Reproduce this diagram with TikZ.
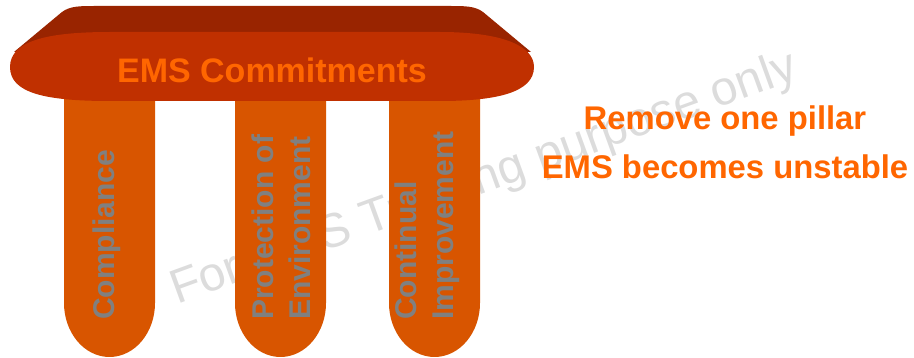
\documentclass[tikz,border=0pt]{standalone}
\usepackage{fontspec}
\setmainfont{Liberation Sans}
\definecolor{slabtop}{HTML}{992400}
\definecolor{slabfront}{HTML}{C03000}
\definecolor{pillarfill}{HTML}{D85500}
\definecolor{emsorange}{HTML}{FF6600}
\definecolor{pillartext}{HTML}{808080}
\definecolor{watermark}{HTML}{DCDCDC}
\begin{document}
\begin{tikzpicture}[x = 1pt, y = -1pt,
    pillarlabel/.style = {text = pillartext, font = \fontsize{30}{37}\selectfont\bfseries,
      rotate = 90, anchor = west, inner sep = 0pt, align = left},
  ]
    \useasboundingbox (0,0) rectangle (914,358);
    % watermark, behind the pillars
    \node[anchor=base west, rotate=20, inner sep=0pt, text=watermark,
      font=\fontsize{48}{58}\selectfont] (mark) at (177,305) {For EMS Training purpose only};
    % the three pillars
    \foreach \x in {64, 235, 389}{
      \fill[pillarfill] (\x,90) -- (\x+91,90) -- (\x+91,303)
        arc[start angle=0, end angle=-180, x radius=45.5, y radius=-54] -- cycle;
    }
    % the slab on top
    \fill[slabtop] (14,52) -- (62,12) .. controls (70,6) and (80,6) .. (95,6) -- (450,6)
      .. controls (465,6) and (475,6) .. (483,12) -- (531,52) -- cycle;
    \fill[slabfront] (10,67) .. controls (10,40) and (50,32) .. (110,32) -- (440,32)
      .. controls (500,32) and (534,45) .. (534,67) .. controls (534,93) and (495,101) .. (440,101)
      -- (110,101) .. controls (45,101) and (10,93) .. (10,67);
    \node[anchor=base, inner sep=0pt, text=emsorange, font=\fontsize{34}{40}\selectfont\bfseries]
      (commit) at (272,83) {EMS Commitments};
    \node[pillarlabel] (comply)  at (107,320) {Compliance};
    \node[pillarlabel] (protect) at (281,320) {Protection of\\Environment};
    \node[pillarlabel] (improve) at (427,320) {Continual\\Improvement};
    \node[align=center, inner sep=0pt, text=emsorange, font=\fontsize{32.8}{49}\selectfont\bfseries]
      (remove) at (725,142) {Remove one pillar\\EMS becomes unstable};
  \end{tikzpicture}
\end{document}
